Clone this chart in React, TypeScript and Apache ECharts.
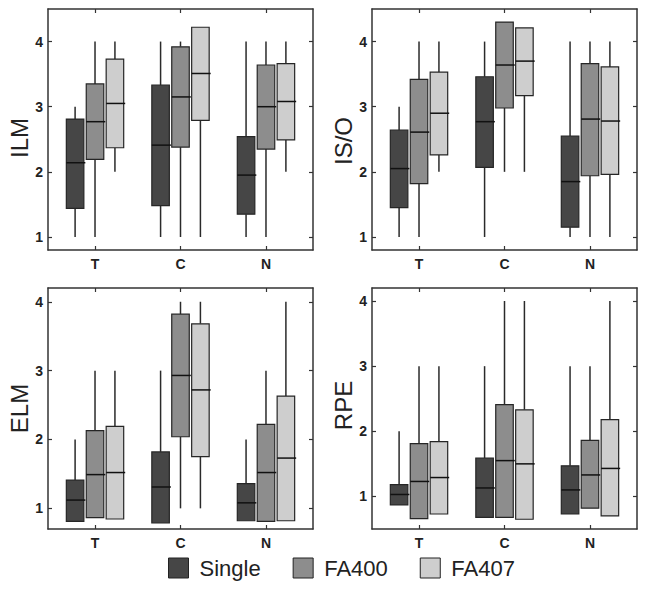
import React, { useEffect, useRef } from "react";
import * as echarts from "echarts";

const categories = ["T", "C", "N"];
const seriesNames = ["Single", "FA400", "FA407"];
const seriesColors = ["#464646", "#8d8d8d", "#cecece"];
const panelTitles = ["ILM", "IS/O", "ELM", "RPE"];
const yTicks = [1, 2, 3, 4];

// each row: [min, Q1, median, Q3, max] for categories T, C, N
const ilmSingle = [[1, 1.44, 2.14, 2.81, 3], [1, 1.48, 2.41, 3.33, 4], [1, 1.35, 1.95, 2.54, 4]];
const ilmFA400 = [[1, 2.19, 2.77, 3.35, 4], [1, 2.38, 3.15, 3.92, 4], [1, 2.35, 3.0, 3.64, 4]];
const ilmFA407 = [[2, 2.37, 3.05, 3.73, 4], [1, 2.79, 3.51, 4.22, 4.22], [2, 2.49, 3.08, 3.66, 4]];

const isoSingle = [[1, 1.45, 2.05, 2.64, 3], [1, 2.07, 2.77, 3.46, 4], [1, 1.15, 1.85, 2.55, 4]];
const isoFA400 = [[1, 1.82, 2.61, 3.42, 4], [2, 2.98, 3.64, 4.3, 4.3], [1, 1.94, 2.81, 3.66, 4]];
const isoFA407 = [[2, 2.26, 2.9, 3.53, 4], [2, 3.17, 3.7, 4.21, 4.21], [1, 1.96, 2.78, 3.61, 4]];

const elmSingle = [[0.81, 0.81, 1.12, 1.41, 2], [0.79, 0.79, 1.31, 1.82, 3], [0.82, 0.82, 1.08, 1.36, 2]];
const elmFA400 = [[0.865, 0.865, 1.49, 2.13, 3], [1, 2.04, 2.93, 3.82, 4], [0.81, 0.81, 1.52, 2.22, 3]];
const elmFA407 = [[0.845, 0.845, 1.52, 2.19, 3], [1, 1.75, 2.72, 3.68, 4], [0.82, 0.82, 1.73, 2.63, 4]];

const rpeSingle = [[0.87, 0.87, 1.03, 1.18, 2], [0.68, 0.68, 1.13, 1.59, 3], [0.73, 0.73, 1.1, 1.47, 3]];
const rpeFA400 = [[0.66, 0.66, 1.23, 1.81, 3], [0.68, 0.68, 1.55, 2.41, 4], [0.82, 0.82, 1.33, 1.86, 3]];
const rpeFA407 = [[0.73, 0.73, 1.29, 1.84, 3], [0.65, 0.65, 1.5, 2.33, 4], [0.7, 0.7, 1.43, 2.18, 4]];

const panelData = [
  [ilmSingle, ilmFA400, ilmFA407],
  [isoSingle, isoFA400, isoFA407],
  [elmSingle, elmFA400, elmFA407],
  [rpeSingle, rpeFA400, rpeFA407],
];
const yRanges = [[0.8, 4.5], [0.8, 4.5], [0.7, 4.2], [0.5, 4.2]];

const FONT = "'Liberation Sans', Arial, sans-serif";
const INK = "#222";

export default function App() {
  const ref = useRef<HTMLDivElement>(null);

  useEffect(() => {
    if (!ref.current) return;
    const chart = echarts.init(ref.current, null, { renderer: "svg" });

    const gridPos = [
      [48, 9],
      [372, 9],
      [48, 288],
      [372, 288],
    ];
    const nameGaps = [14, 14, 14, 12];
    const namePads = [
      [0, 17, 0, 0],
      [0, 23, 0, 0],
      [0, 0, 0, 0],
      [0, 0, 0, 6],
    ];
    const grids: any[] = [];
    const xAxes: any[] = [];
    const yAxes: any[] = [];
    const series: any[] = [];
    const boxOffsets = [-0.233, 0, 0.233];
    const boxW = 0.205;

    gridPos.forEach((p, g) => {
      grids.push({ left: p[0], top: p[1], width: 265, height: 241 });
      const axisLine = { show: true, lineStyle: { color: "#333", width: 1.5 } };
      const xTicks = categories.map((_, i) => i + 1);
      ["bottom", "top"].forEach((pos, k) => {
        xAxes.push({
          type: "value",
          gridIndex: g,
          position: pos,
          min: 0.45,
          max: 3.55,
          axisLine,
          splitLine: { show: false },
          axisTick: { show: true, inside: true, length: 4, customValues: xTicks, lineStyle: { color: "#333", width: 1.2 } },
          axisLabel: {
            show: k === 0,
            customValues: xTicks,
            formatter: (v: number) => categories[Math.round(v) - 1] ?? "",
            fontFamily: FONT,
            fontWeight: "bold",
            fontSize: 14,
            color: INK,
            margin: 7,
          },
        });
      });
      ["left", "right"].forEach((pos, k) => {
        yAxes.push({
          type: "value",
          gridIndex: g,
          position: pos,
          min: yRanges[g][0],
          max: yRanges[g][1],
          axisLine,
          splitLine: { show: false },
          axisTick: { show: true, inside: true, length: 4, customValues: yTicks, lineStyle: { color: "#333", width: 1.2 } },
          axisLabel: {
            show: k === 0,
            customValues: yTicks,
            fontFamily: FONT,
            fontWeight: "bold",
            fontSize: 14,
            color: INK,
            margin: 5,
          },
          name: k === 0 ? panelTitles[g] : "",
          nameLocation: "middle",
          nameGap: nameGaps[g],
          nameTextStyle: { fontFamily: FONT, fontSize: 24, color: INK, padding: namePads[g] },
        });
      });

      panelData[g].forEach((rows, s) => {
        const data = rows.map((r, i) => [i + 1, ...r]);
        series.push({
          type: "custom",
          name: seriesNames[s],
          xAxisIndex: g * 2,
          yAxisIndex: g * 2,
          itemStyle: { color: seriesColors[s] },
          encode: { x: 0, y: [1, 2, 3, 4, 5] },
          data,
          renderItem: (params: any, api: any) => {
            const x = api.value(0) + boxOffsets[s];
            const pMin = api.coord([x, api.value(1)]);
            const pQ1 = api.coord([x, api.value(2)]);
            const pMed = api.coord([x, api.value(3)]);
            const pQ3 = api.coord([x, api.value(4)]);
            const pMax = api.coord([x, api.value(5)]);
            const half = api.size([boxW, 0])[0] / 2;
            const cx = pQ1[0];
            const lineStyle = { stroke: "#2a2a2a", lineWidth: 1.5 };
            return {
              type: "group",
              children: [
                { type: "line", shape: { x1: cx, y1: pQ3[1], x2: cx, y2: pMax[1] }, style: lineStyle },
                { type: "line", shape: { x1: cx, y1: pQ1[1], x2: cx, y2: pMin[1] }, style: lineStyle },
                {
                  type: "rect",
                  shape: { x: cx - half, y: pQ3[1], width: half * 2, height: pQ1[1] - pQ3[1] },
                  style: { fill: seriesColors[s], stroke: "#262626", lineWidth: 1.2 },
                },
                {
                  type: "line",
                  shape: { x1: cx - half, y1: pMed[1], x2: cx + half + 1.5, y2: pMed[1] },
                  style: { stroke: "#111", lineWidth: 1.5 },
                },
              ],
            };
          },
        });
      });
    });

    chart.setOption({
      animation: false,
      backgroundColor: "#ffffff",
      grid: grids,
      xAxis: xAxes,
      yAxis: yAxes,
      legend: {
        data: seriesNames,
        left: 163,
        top: 552,
        itemWidth: 20,
        itemHeight: 20,
        itemGap: 32,
        icon: "rect",
        itemStyle: { borderColor: "#222", borderWidth: 1 },
        textStyle: { fontFamily: FONT, fontSize: 22, color: INK, padding: [0, 0, 0, 6] },
        selectedMode: false,
      },
      series,
    });

    return () => chart.dispose();
  }, []);

  return (
    <div
      ref={ref}
      style={{ position: "absolute", left: 0, top: 0, width: 649, height: 590 }}
    />
  );
}
